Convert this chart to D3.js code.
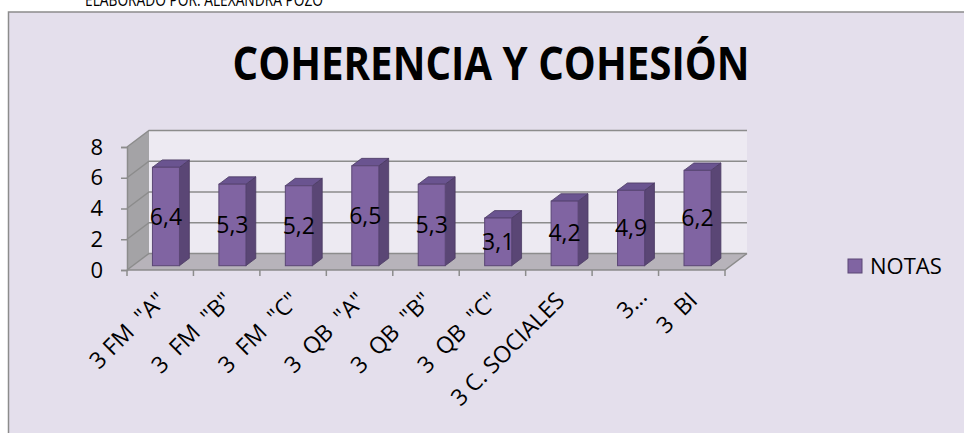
<!DOCTYPE html>
<html><head><meta charset="utf-8">
<script src="https://cdn.jsdelivr.net/npm/d3@7"></script>
<style>
body{margin:0;background:#fff;}
svg{display:block;}
text{font-family:"Open Sans","Noto Sans",sans-serif;fill:#000;}
</style>
</head><body>
<svg id="c" width="964" height="433"></svg>
<script>
const categories = ['3 FM  "A"','3  FM  "B"','3  FM  "C"','3  QB  "A"','3  QB  "B"','3  QB  "C"','3 C. SOCIALES','3…','3  BI'];
const notas = [6.4, 5.3, 5.2, 6.5, 5.3, 3.1, 4.2, 4.9, 6.2];
const dataLabels = ['6,4','5,3','5,2','6,5','5,3','3,1','4,2','4,9','6,2'];
const yTicks = [0, 2, 4, 6, 8];
const seriesName = 'NOTAS';
const titleText = 'COHERENCIA Y COHESIÓN';
const subtitleText = 'ELABORADO POR: ALEXANDRA POZO';

const svg = d3.select('#c');

// frame
svg.append('rect').attr('x', 8.5).attr('y', 12).attr('width', 1000).attr('height', 500)
  .attr('fill', '#E4DFEC').attr('stroke', '#8C8C8C').attr('stroke-width', 1.5);

// subtitle (cut off at top, as in the reference)
svg.append('text').attr('x', 204).attr('y', 6).attr('text-anchor', 'middle')
  .attr('font-size', 19).attr('textLength', 238).attr('lengthAdjust', 'spacingAndGlyphs')
  .attr('fill', '#111').text(subtitleText);

// title
svg.append('text').attr('x', 491).attr('y', 80).attr('text-anchor', 'middle')
  .attr('font-size', 46).attr('font-weight', 'bold')
  .attr('textLength', 517).attr('lengthAdjust', 'spacingAndGlyphs')
  .text(titleText);

// scales
const x = d3.scaleBand().domain(categories).range([127, 725]).padding(0);
const y = d3.scaleLinear().domain([0, 8]).range([270, 147]);
const DX = 22, DY = -16.5;            // full depth of the 3D box
const BZ0 = 0.26, BZ1 = 0.71;         // bar depth span (fraction)
const BW = 27;                         // bar width

const x0 = x.range()[0], x1 = x.range()[1];
const yb = y(0), yt = y(8);
const line = d3.line();

// left side wall
svg.append('path').attr('d', line([[x0, yt], [x0 + DX, yt + DY], [x0 + DX, yb + DY], [x0, yb]]) + 'Z')
  .attr('fill', '#A4A3A6');
// back wall
svg.append('path').attr('d', line([[x0 + DX, yt + DY], [x1 + DX, yt + DY], [x1 + DX, yb + DY], [x0 + DX, yb + DY]]) + 'Z')
  .attr('fill', '#EDEAF2');
// floor
svg.append('path').attr('d', line([[x0, yb], [x1, yb], [x1 + DX, yb + DY], [x0 + DX, yb + DY]]) + 'Z')
  .attr('fill', '#B7B3BA');

// gridlines
const gridCol = '#8C8C8C';
yTicks.forEach(t => {
  const yy = y(t);
  svg.append('path').attr('d', line([[x0, yy], [x0 + DX, yy + DY], [x1 + DX, yy + DY]]))
    .attr('fill', 'none').attr('stroke', gridCol).attr('stroke-width', 1.5);
});
// floor edges
svg.append('path').attr('d', line([[x0, yb], [x1, yb], [x1 + DX, yb + DY]]))
  .attr('fill', 'none').attr('stroke', gridCol).attr('stroke-width', 1.5);

// y axis
const yAxis = d3.axisLeft(y).tickValues(yTicks).tickSize(6).tickPadding(18).tickFormat(d3.format('d'));
const gy = svg.append('g').attr('transform', `translate(${x0},0)`).call(yAxis);
gy.select('.domain').attr('stroke', gridCol).attr('stroke-width', 1.5);
gy.selectAll('.tick line').attr('stroke', gridCol).attr('stroke-width', 1.5);
gy.selectAll('.tick text').attr('font-size', 22).attr('font-family', '"Open Sans",sans-serif').attr('fill', '#000');

// x ticks at category boundaries
const bounds = categories.map(c => x(c)).concat([x1]);
svg.selectAll('.xt').data(bounds).enter().append('line')
  .attr('x1', d => d).attr('x2', d => d).attr('y1', yb).attr('y2', yb + 6)
  .attr('stroke', gridCol).attr('stroke-width', 1.5);

// bars
const bars = categories.map((c, i) => ({c, v: notas[i], lab: dataLabels[i]}));
const g = svg.append('g');
bars.forEach(b => {
  const cx = x(b.c) + x.bandwidth() / 2;
  const fx = cx - BW / 2 + DX * BZ0, fy0 = yb + DY * BZ0, fy1 = y(b.v) + DY * BZ0;
  const ddx = DX * (BZ1 - BZ0), ddy = DY * (BZ1 - BZ0);
  g.append('path').attr('d', line([[fx + BW, fy1], [fx + BW + ddx, fy1 + ddy], [fx + BW + ddx, fy0 + ddy], [fx + BW, fy0]]) + 'Z')
    .attr('fill', '#5A4675').attr('stroke', '#4A3A62').attr('stroke-width', 0.8);
  g.append('path').attr('d', line([[fx, fy1], [fx + ddx, fy1 + ddy], [fx + BW + ddx, fy1 + ddy], [fx + BW, fy1]]) + 'Z')
    .attr('fill', '#6A5490').attr('stroke', '#4A3A62').attr('stroke-width', 0.8);
  g.append('rect').attr('x', fx).attr('y', fy1).attr('width', BW).attr('height', fy0 - fy1)
    .attr('fill', '#8064A2').attr('stroke', '#5A4675').attr('stroke-width', 1);
  g.append('text').attr('x', fx + BW / 2).attr('y', (fy0 + fy1) / 2 + 8)
    .attr('text-anchor', 'middle').attr('font-size', 23).text(b.lab);
});

// x labels
const xl = svg.append('g');
categories.forEach((c) => {
  const cx = x(c) + x.bandwidth() / 2;
  let ax = cx + 7, ay = 302;
  if (c === '3…') { ax += 16; ay -= 4; }
  xl.append('text')
    .attr('xml:space', 'preserve')
    .attr('transform', `translate(${ax},${ay}) rotate(-45)`)
    .attr('text-anchor', 'end').attr('font-size', 23).text(c);
});

// legend
svg.append('rect').attr('x', 848).attr('y', 259).attr('width', 14).attr('height', 14)
  .attr('fill', '#8064A2').attr('stroke', '#5A4675').attr('stroke-width', 1);
svg.append('text').attr('x', 870).attr('y', 274).attr('font-size', 22).text(seriesName);
</script>
</body></html>
